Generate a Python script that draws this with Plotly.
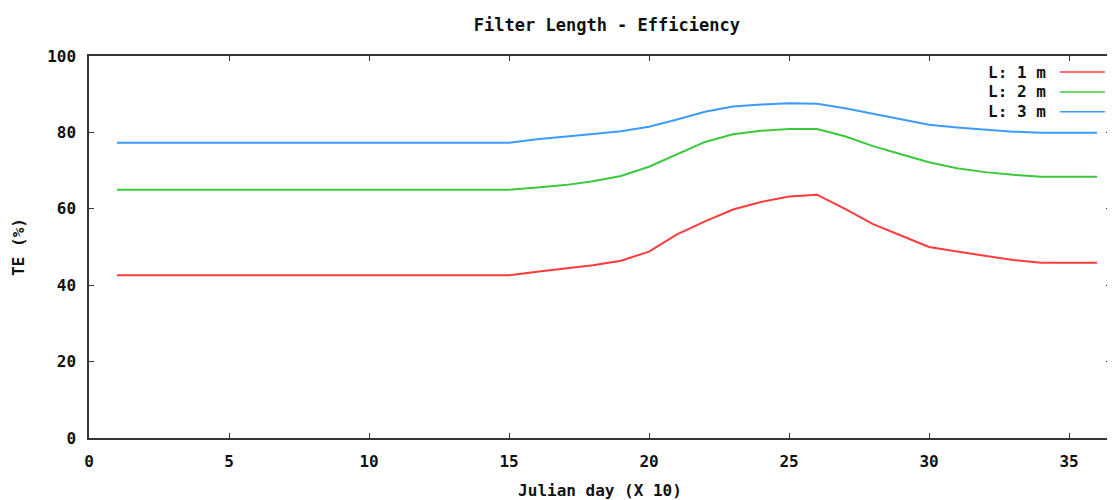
import plotly.graph_objects as go

days = list(range(1, 37))
te_1m = [42.6]*15 + [43.5, 44.4, 45.2, 46.4, 48.8, 53.3, 56.7, 59.8, 61.8, 63.2, 63.7,
                     60.0, 56.0, 53.0, 50.0, 48.8, 47.7, 46.6, 45.9, 45.9, 45.9]
te_2m = [65.0]*15 + [65.6, 66.2, 67.2, 68.6, 71.0, 74.3, 77.5, 79.5, 80.4, 80.9, 80.9,
                     79.0, 76.4, 74.3, 72.2, 70.6, 69.6, 68.9, 68.4, 68.4, 68.4]
te_3m = [77.3]*15 + [78.2, 78.8, 79.6, 80.3, 81.5, 83.4, 85.4, 86.8, 87.3, 87.6, 87.5,
                     86.3, 84.9, 83.4, 82.0, 81.3, 80.7, 80.2, 79.9, 79.9, 79.9]
series_names = ["L: 1 m", "L: 2 m", "L: 3 m"]
series_colors = ["#ff3b3b", "#3cc83c", "#3d9bff"]
x_ticks = [0, 5, 10, 15, 20, 25, 30, 35]
y_ticks = [0, 20, 40, 60, 80, 100]

FONT = "DejaVu Sans Mono"
fig = go.Figure()
for name, vals, col in zip(series_names, [te_1m, te_2m, te_3m], series_colors):
    fig.add_trace(go.Scatter(x=days, y=vals, mode="lines", name=name,
                             line=dict(color=col, width=2), showlegend=False))

# gnuplot-style legend: text then line sample
for i, (name, col) in enumerate(zip(series_names, series_colors)):
    yp = 0.958 - i * 0.052
    fig.add_annotation(x=0.9385, y=yp, xref="paper", yref="paper", text=name,
                       showarrow=False, xanchor="right", yanchor="middle",
                       font=dict(family=FONT, size=16, color="#111", weight="bold"))
    fig.add_shape(type="line", xref="paper", yref="paper", x0=0.950, x1=0.994,
                  y0=yp, y1=yp, line=dict(color=col, width=1.5))

axis_common = dict(showgrid=False, zeroline=False, showline=True, linecolor="#333",
                   linewidth=1.5, mirror="ticks", ticks="inside", ticklen=5,
                   tickcolor="#333", tickwidth=1,
                   tickfont=dict(family=FONT, size=16, color="#111", weight="bold"))
fig.update_xaxes(range=[0, 36.5], tickvals=x_ticks, ticklabelstandoff=8,
                 title=dict(text="Julian day (X 10)", standoff=16,
                            font=dict(family=FONT, size=16, color="#111", weight="bold")),
                 **axis_common)
fig.update_yaxes(range=[0, 100], tickvals=y_ticks, ticklabelstandoff=8,
                 title=dict(text="TE (%)", standoff=19,
                            font=dict(family=FONT, size=16, color="#111", weight="bold")),
                 **axis_common)
fig.update_layout(
    width=1107, height=492,
    margin=dict(l=81, r=2, t=48, b=61),
    paper_bgcolor="white", plot_bgcolor="white",
    title=dict(text="Filter Length - Efficiency", x=0.541, xanchor="center", y=0.965,
               yanchor="middle",
               font=dict(family=FONT, size=17, color="#111", weight="bold")),
)
fig.write_html("out.html")
